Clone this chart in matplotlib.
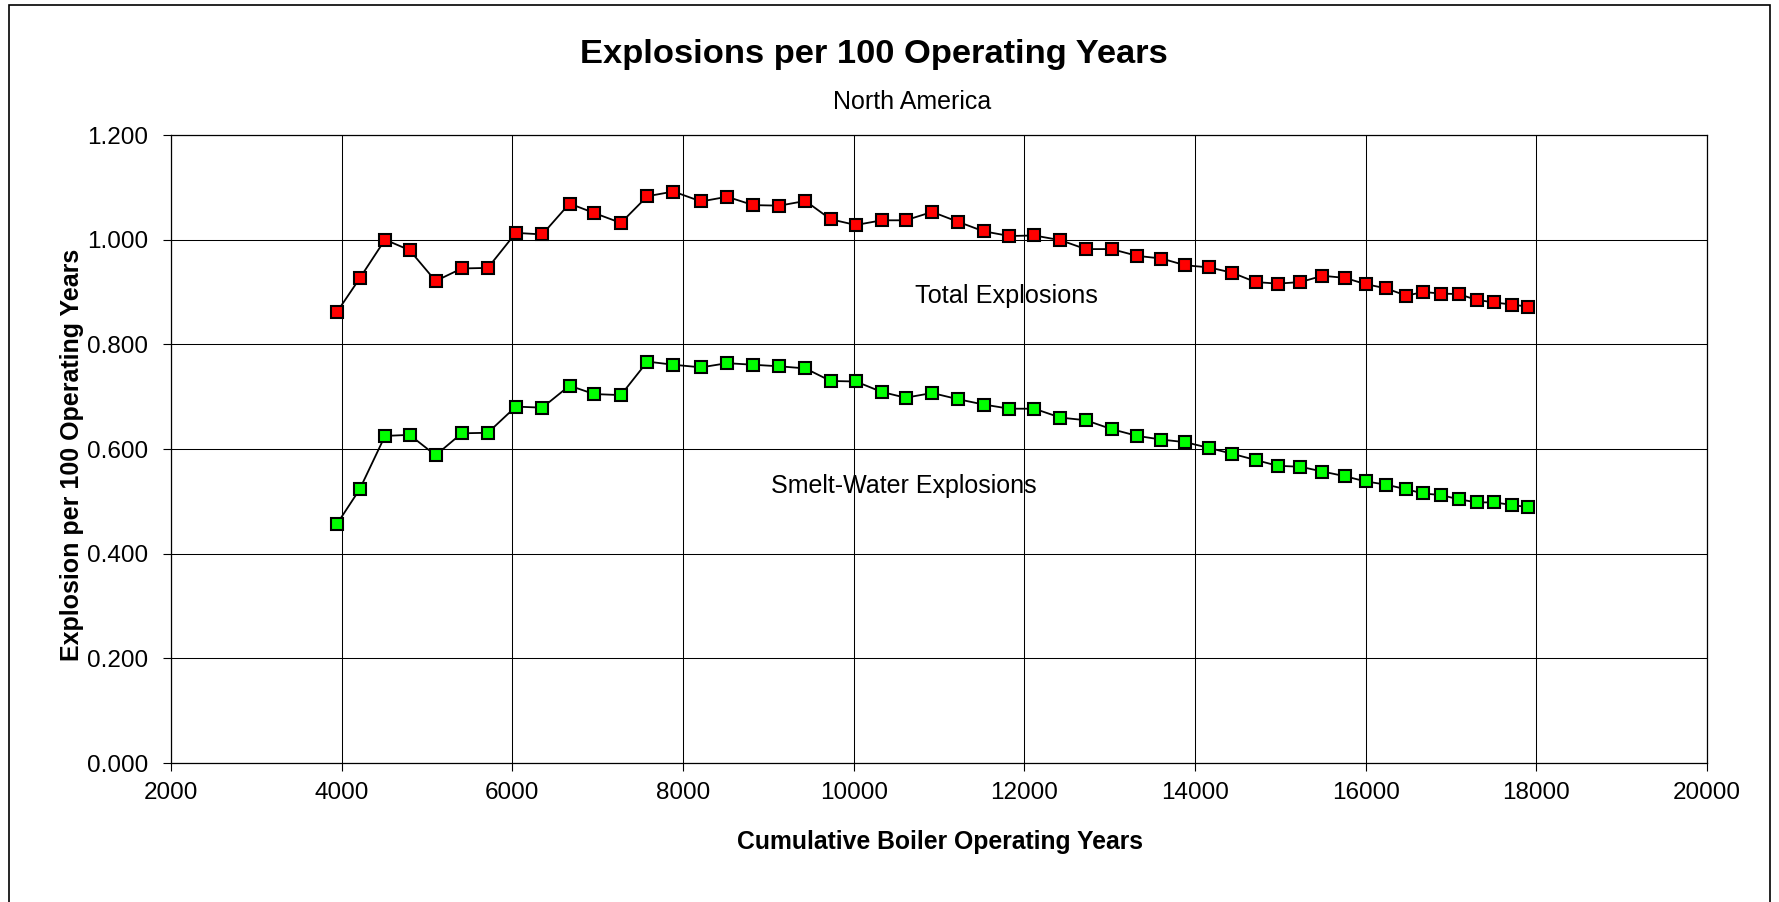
import matplotlib
matplotlib.use("Agg")
import matplotlib.pyplot as plt
from matplotlib.patches import Rectangle

# ---- data ----
years = [3946, 4211, 4508, 4796, 5101, 5407, 5713, 6041, 6351, 6670,
         6958, 7272, 7582, 7888, 8212, 8517, 8823, 9129, 9434, 9730,
         10025, 10330, 10608, 10920, 11226, 11523, 11825, 12117, 12423, 12720,
         13022, 13324, 13606, 13888, 14165, 14433, 14710, 14968, 15236, 15494,
         15757, 16000, 16238, 16477, 16676, 16881, 17090, 17299, 17508, 17713,
         17900]
total = [0.862, 0.926, 1.000, 0.980, 0.921, 0.945, 0.946, 1.013, 1.010, 1.069,
         1.051, 1.032, 1.083, 1.092, 1.073, 1.082, 1.066, 1.065, 1.074, 1.039,
         1.028, 1.037, 1.037, 1.053, 1.034, 1.016, 1.007, 1.008, 0.999, 0.982,
         0.982, 0.969, 0.964, 0.951, 0.947, 0.937, 0.919, 0.916, 0.919, 0.931,
         0.927, 0.915, 0.907, 0.893, 0.900, 0.897, 0.896, 0.885, 0.880, 0.876,
         0.872]
smelt = [0.457, 0.523, 0.625, 0.627, 0.588, 0.630, 0.631, 0.681, 0.679, 0.721,
         0.705, 0.703, 0.767, 0.761, 0.756, 0.764, 0.761, 0.758, 0.754, 0.730,
         0.729, 0.709, 0.698, 0.707, 0.695, 0.685, 0.677, 0.677, 0.660, 0.655,
         0.638, 0.625, 0.618, 0.613, 0.602, 0.591, 0.579, 0.568, 0.566, 0.557,
         0.548, 0.538, 0.532, 0.523, 0.515, 0.512, 0.504, 0.498, 0.498, 0.493,
         0.489]
xticks = [2000, 4000, 6000, 8000, 10000, 12000, 14000, 16000, 18000, 20000]
yticks = [0.0, 0.2, 0.4, 0.6, 0.8, 1.0, 1.2]

plt.rcParams['font.family'] = ['Liberation Sans', 'DejaVu Sans']

W, H = 1779, 902
fig = plt.figure(figsize=(W / 100, H / 100), dpi=100)
fig.patch.set_facecolor('white')

L, R, T, B = 171, 1707, 135, 763
ax = fig.add_axes([L / W, 1 - B / H, (R - L) / W, (B - T) / H])

ms = 9.2
ax.plot(years, total, color='black', lw=1.3, marker='s', ms=ms,
        markerfacecolor='#FF0000', markeredgecolor='black', markeredgewidth=1.5, zorder=3)
ax.plot(years, smelt, color='black', lw=1.3, marker='s', ms=ms,
        markerfacecolor='#00FF00', markeredgecolor='black', markeredgewidth=1.5, zorder=3)

ax.set_xlim(2000, 20000)
ax.set_ylim(0, 1.2)
ax.set_xticks(xticks)
ax.set_xticklabels([str(v) for v in xticks])
ax.set_yticks(yticks)
ax.set_yticklabels([f"{v:.3f}" for v in yticks])
ax.grid(True, color='black', lw=0.75)
ax.set_axisbelow(True)
for s in ax.spines.values():
    s.set_color('black')
    s.set_linewidth(0.9)
ax.tick_params(axis='both', direction='out', length=5.5, width=0.8, colors='black',
               labelsize=17.5)
ax.tick_params(axis='y', pad=11)
ax.tick_params(axis='x', pad=8)

ax.text(11790, 0.893, "Total Explosions", fontsize=18.2, ha='center', va='center')
ax.text(10590, 0.530, "Smelt-Water Explosions", fontsize=18, ha='center', va='center')

fig.text(874 / W, 1 - 54 / H, "Explosions per 100 Operating Years", fontsize=24.8,
         fontweight='bold', ha='center', va='center')
fig.text(912 / W, 1 - 102 / H, "North America", fontsize=18, ha='center', va='center')
fig.text(940 / W, 1 - 842 / H, "Cumulative Boiler Operating Years", fontsize=17.8,
         fontweight='bold', ha='center', va='center')
fig.text(72 / W, 1 - 455 / H, "Explosion per 100 Operating Years", fontsize=18,
         fontweight='bold', ha='center', va='center', rotation=90)

fig.patches.append(Rectangle((8.5 / W, -0.05), (1770 - 8.5) / W, 1.05 - 4.7 / H,
                             transform=fig.transFigure, fill=False,
                             edgecolor='black', lw=1.2))

fig.savefig("out.png", dpi=100)
